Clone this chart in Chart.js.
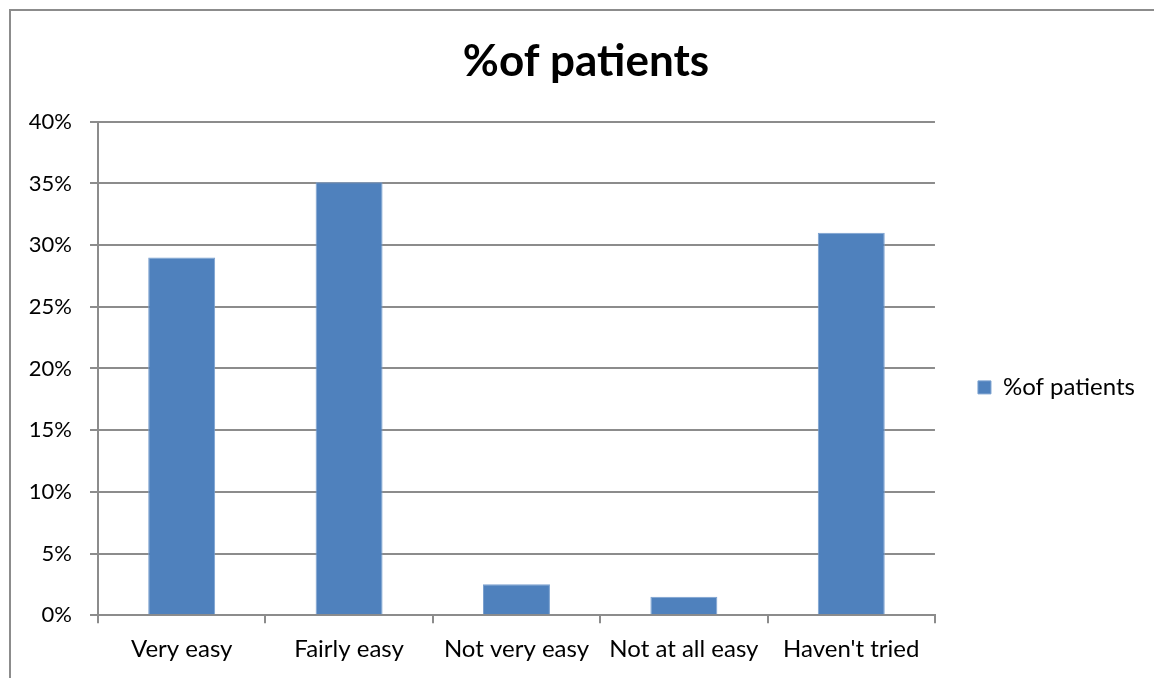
<!DOCTYPE html>
<html>
<head>
<meta charset="utf-8">
<script src="https://cdn.jsdelivr.net/npm/chart.js@4"></script>
<style>
  html, body { margin: 0; padding: 0; background: #fff; overflow: hidden; }
  #frame {
    position: absolute; left: 9px; top: 9px; width: 1200px; height: 720px;
    border: 2px solid #8c8c8c; box-sizing: border-box;
  }
  #wrap { position: absolute; left: 0; top: 0; width: 1154px; height: 678px; }
</style>
</head>
<body>
<div id="frame"></div>
<div id="wrap"><canvas id="myChart" width="1154" height="678"></canvas></div>
<script>
const categories = ['Very easy', 'Fairly easy', 'Not very easy', 'Not at all easy', "Haven't tried"];
const patientShare = [29, 35.1, 2.5, 1.5, 31];
const seriesLabel = '%of patients';

const ctx = document.getElementById('myChart').getContext('2d');
const fontFamily = 'Lato, "Liberation Sans", sans-serif';
const gridGray = '#8c8c8c';

const myChart = new Chart(ctx, {
    type: 'bar',
    data: {
        labels: categories,
        datasets: [{
            label: seriesLabel,
            data: patientShare,
            backgroundColor: '#4F81BD',
            borderColor: '#7aa0cf',
            borderWidth: 1,
            barPercentage: 0.4,
            categoryPercentage: 1
        }]
    },
    options: {
        responsive: false,
        animation: false,
        layout: { padding: { left: 27, right: 9, top: 35, bottom: 2 } },
        scales: {
            x: {
                offset: true,
                grid: {
                    offset: true,
                    drawOnChartArea: false,
                    color: gridGray,
                    tickLength: 8,
                    lineWidth: 2
                },
                border: { color: gridGray, width: 2 },
                ticks: { color: '#000', font: { family: fontFamily, size: 24 }, padding: 12 }
            },
            y: {
                min: 0,
                max: 40,
                afterFit: (scale) => { scale.width = 71; },
                ticks: {
                    stepSize: 5,
                    color: '#000',
                    font: { family: fontFamily, size: 22 },
                    padding: 18,
                    callback: (v) => v + '%'
                },
                grid: { color: gridGray, tickLength: 8, lineWidth: 2 },
                border: { color: gridGray, width: 2 }
            }
        },
        plugins: {
            title: {
                display: true,
                text: seriesLabel,
                color: '#000',
                font: { family: fontFamily, size: 44, weight: 'bold' },
                padding: { top: 0, bottom: 34 }
            },
            legend: {
                position: 'right',
                title: {
                    display: true,
                    text: ' ',
                    font: { family: fontFamily, size: 24 },
                    padding: { top: 0, bottom: 35 }
                },
                labels: {
                    color: '#000',
                    font: { family: fontFamily, size: 24 },
                    boxWidth: 13,
                    boxHeight: 13,
                    padding: 43
                }
            },
            tooltip: { enabled: false }
        }
    }
});
</script>
</body>
</html>
